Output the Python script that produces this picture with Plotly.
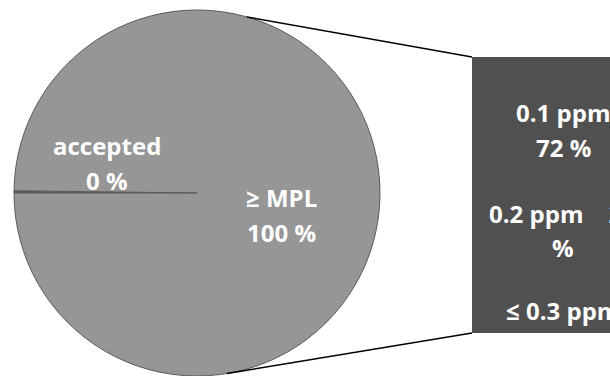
import math
import plotly.graph_objects as go

# ---------------- data ----------------
pie_labels = ["accepted", "≥ MPL"]
pie_values = [0.2, 99.8]          # accepted ≈ 0 %, ≥ MPL ≈ 100 %
bar_labels = ["0.1 ppm", "0.2 ppm", "≤ 0.3 ppm"]
bar_values = [72, 26, 2]

# ---------------- layout constants ----------------
W, H = 610, 376
FONT = dict(family="'Open Sans', Lato, sans-serif", size=24, color="white", weight="bold")
PIE_C = (197, 193)   # px (x, y from top)
PIE_R = 183
BAR_LEFT, BAR_TOP, BAR_BOTTOM, BAR_W = 472, 57, 333, 182
LINE_GAP = 35        # px between label lines (baseline to baseline)

def px(x):
    return x / W

def py(y):
    return 1 - y / H

fig = go.Figure()

# pie
fig.add_trace(go.Pie(
    labels=pie_labels,
    values=pie_values,
    sort=False,
    direction="clockwise",
    rotation=-90,
    textinfo="none",
    hoverinfo="label+percent",
    marker=dict(colors=["#5a5a5a", "#969696"], line=dict(color="#5a5a5a", width=1)),
    domain=dict(x=[px(PIE_C[0] - PIE_R), px(PIE_C[0] + PIE_R)],
                y=[py(PIE_C[1] + PIE_R), py(PIE_C[1] - PIE_R)]),
    showlegend=False,
))

# stacked bar (top segment first in list -> drawn on top)
for lab, val in reversed(list(zip(bar_labels, bar_values))):
    fig.add_trace(go.Bar(
        x=[0], y=[val], name=lab, width=1,
        marker=dict(color="#505050", line=dict(width=0)),
        showlegend=False, hoverinfo="name+y",
    ))

dom_w = W - BAR_LEFT
fig.update_layout(
    barmode="stack",
    width=W, height=H,
    margin=dict(l=0, r=0, t=0, b=0),
    paper_bgcolor="white", plot_bgcolor="rgba(0,0,0,0)",
    xaxis=dict(domain=[px(BAR_LEFT), 1], range=[-0.5, -0.5 + dom_w / BAR_W],
               visible=False, fixedrange=True),
    yaxis=dict(domain=[py(BAR_BOTTOM), py(BAR_TOP)], range=[0, sum(bar_values)],
               visible=False, fixedrange=True),
)

# connector lines from pie edge to bar corners
def pie_point(angle_deg):
    a = math.radians(angle_deg)
    return PIE_C[0] + PIE_R * math.sin(a), PIE_C[1] - PIE_R * math.cos(a)

for ang, corner_y in [(15.8, BAR_TOP), (170.6, BAR_BOTTOM)]:
    x0, y0 = pie_point(ang)
    fig.add_shape(type="line", xref="paper", yref="paper",
                  x0=px(x0), y0=py(y0), x1=px(BAR_LEFT), y1=py(corner_y),
                  line=dict(color="black", width=1.6))

def add_line(t, x, base, anchor="center"):
    fig.add_annotation(text=t, x=px(x), y=py(base - 10), xref="paper", yref="paper",
                       xanchor=anchor, yanchor="middle", showarrow=False, font=FONT)

# pie labels
pct = [round(v / sum(pie_values) * 100) for v in pie_values]
pie_text_pos = [(107, 155), (281, 207)]
for lab, p, (x, b) in zip(pie_labels, pct, pie_text_pos):
    add_line(lab, x, b)
    add_line(f"{p} %", x, b + LINE_GAP)

# bar labels (the 0.2 ppm label wraps after its value, as in the original)
bx = BAR_LEFT + BAR_W / 2
bar_baselines = [123, 223, 320]
for lab, val, b in zip(bar_labels, bar_values, bar_baselines):
    if lab == "0.2 ppm":
        add_line(f"{lab}    {val}", BAR_LEFT + 15, b, anchor="left")
        add_line("%", bx, b + LINE_GAP)
    else:
        add_line(lab, bx, b)
        add_line(f"{val} %", bx, b + LINE_GAP)

fig.write_html("out.html")
